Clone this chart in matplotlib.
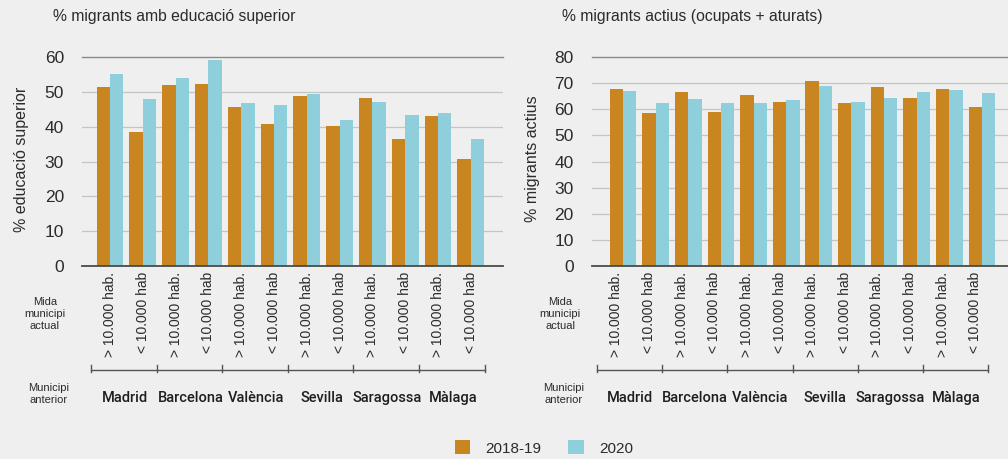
import matplotlib
matplotlib.use("Agg")
import matplotlib.pyplot as plt
import matplotlib.transforms as mtransforms
from matplotlib.patches import Patch
from matplotlib.lines import Line2D
import numpy as np

# data
cities = ["Madrid", "Barcelona", "València", "Sevilla", "Saragossa", "Màlaga"]
sizes = ["> 10.000 hab.", "< 10.000 hab"]
series = ["2018-19", "2020"]

edu_1819 = [51.4, 38.4, 52.1, 52.2, 45.6, 40.8, 48.8, 40.3, 48.4, 36.4, 43.2, 30.7]
edu_2020 = [55.2, 48.0, 53.9, 59.1, 46.8, 46.3, 49.5, 42.0, 47.1, 43.4, 44.0, 36.5]

act_1819 = [67.8, 58.5, 66.7, 59.1, 65.4, 62.7, 71.0, 62.3, 68.5, 64.3, 67.8, 60.8]
act_2020 = [66.9, 62.3, 64.0, 62.3, 62.6, 63.5, 68.9, 62.8, 64.4, 66.6, 67.4, 66.2]

ORANGE = "#C9851F"
BLUE = "#8FCEDB"
BG = "#EFEFEF"
TXT = "#2b2b2b"
FONT = ["Liberation Sans", "DejaVu Sans"]
CITY_FONT = ["Roboto", "Liberation Sans", "DejaVu Sans"]

plt.rcParams["font.family"] = FONT

W, H = 1008, 459
fig = plt.figure(figsize=(W / 100, H / 100), dpi=100, facecolor=BG)


def px_box(x0, x1, y_top, y_bot):
    return [x0 / W, 1 - y_bot / H, (x1 - x0) / W, (y_bot - y_top) / H]


def draw_panel(rect, v1, v2, ymax, title, ylabel, xlim, title_x, ylab_x, side_x,
               bracket_shift, label_shift, city_shift):
    ax = fig.add_axes(rect)
    ax.set_facecolor(BG)
    n = len(v1)
    x = np.arange(n)
    bw = 0.41
    ax.bar(x - bw / 2, v1, bw, color=ORANGE, zorder=3)
    ax.bar(x + bw / 2, v2, bw, color=BLUE, zorder=3)
    ax.set_xlim(*xlim)
    ax.set_ylim(0, ymax)
    ticks = np.arange(0, ymax + 1, 10)
    ax.set_yticks(ticks)
    for t in ticks[1:-1]:
        ax.axhline(t, color="#c4c4c4", lw=0.9, zorder=1)
    ax.axhline(ymax, color="#8a8a8a", lw=1.0, zorder=1, clip_on=False)
    ax.axhline(0, color="#4a4a4a", lw=1.3, zorder=4, clip_on=False)
    for s in ax.spines.values():
        s.set_visible(False)
    ax.tick_params(axis="y", length=0, pad=13, labelsize=12.5, labelcolor=TXT)
    ax.set_xticks([])

    trans = mtransforms.blended_transform_factory(ax.transData, ax.transAxes)
    ah = rect[3] * H
    def ay(py):
        # pixel offset below the zero line -> axes fraction
        return -py / ah

    for i in range(n):
        ax.text(i + label_shift, ay(6), sizes[i % 2], rotation=90, ha="center",
                va="top", fontsize=10, color=TXT, transform=trans, family=FONT)

    edges = -0.5 + bracket_shift + np.arange(len(cities) + 1) * 2.0
    ax.add_line(Line2D([edges[0], edges[-1]], [ay(104.5), ay(104.5)], transform=trans,
                       color="#555555", lw=1.0, clip_on=False))
    for e in edges:
        ax.add_line(Line2D([e, e], [ay(99), ay(106)], transform=trans,
                           color="#555555", lw=1.0, clip_on=False))
    for k, c in enumerate(cities):
        ax.text(2 * k + 0.5 + city_shift, ay(132), c, ha="center", va="center",
                fontsize=10.5, fontweight="medium", color="#1e1e1e", transform=trans,
                family=CITY_FONT)

    fig.text(title_x / W, 1 - 17 / H, title, ha="left", va="center",
             fontsize=11.3, color=TXT)
    fig.text(ylab_x / W, 1 - 159 / H, ylabel, rotation=90, ha="center",
             va="center", fontsize=11.5, color=TXT)
    fig.text(side_x / W, 1 - 314 / H, "Mida\nmunicipi\nactual", ha="center",
             va="center", fontsize=8, color=TXT, linespacing=1.3)
    fig.text((side_x + 4) / W, 1 - 394 / H, "Municipi\nanterior", ha="center",
             va="center", fontsize=8, color=TXT, linespacing=1.3)
    return ax


top_px, zero_px = 57.3, 265.7
draw_panel(px_box(82, 503, top_px, zero_px), edu_1819, edu_2020, 60,
           "% migrants amb educació superior", "% educació superior",
           (-0.854, 11.98), 53, 22, 45, -0.08, 0.0, -0.05)
draw_panel(px_box(591.7, 1008, top_px, zero_px), act_1819, act_2020, 80,
           "% migrants actius (ocupats + aturats)", "% migrants actius",
           (-0.96, 11.8), 562, 533, 560, -0.3, -0.2, -0.3)

handles = [Patch(facecolor=ORANGE, edgecolor="none"),
           Patch(facecolor=BLUE, edgecolor="none")]
fig.legend(handles, series, loc="center", bbox_to_anchor=(544 / W, 1 - 448 / H),
           ncol=2, frameon=False, fontsize=11, handlelength=1.0, handleheight=1.0,
           handletextpad=1.0, columnspacing=1.75, labelcolor=TXT)

fig.savefig("out.png", dpi=100, facecolor=BG)
